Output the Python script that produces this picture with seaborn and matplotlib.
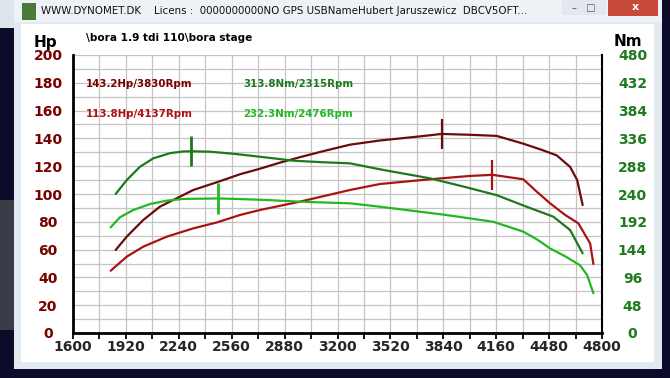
import numpy as np
import pandas as pd
import matplotlib
matplotlib.use("Agg")
import matplotlib.pyplot as plt
from matplotlib.patches import Rectangle
import seaborn as sns

# ---------------- data ----------------
rpm_hp_a = [1858, 1925, 2025, 2126, 2227, 2328, 2469, 2610, 2731, 2850, 2973, 3120, 3276,
            3457, 3679, 3830, 4002, 4163, 4324, 4430, 4526, 4607, 4650, 4683]
hp_a = [59.7, 69.3, 81.3, 90.9, 96.9, 102.9, 108.4, 114.2, 118.2, 122.5, 126.5, 131, 135.5,
        138.5, 141.2, 143.2, 142.6, 141.8, 136.2, 132, 127.8, 119.5, 110, 92]

rpm_hp_b = [1828, 1925, 2025, 2167, 2328, 2469, 2610, 2731, 2973, 3276, 3457, 3760, 4002,
            4137, 4324, 4405, 4486, 4576, 4657, 4728, 4748]
hp_b = [44.8, 54.9, 62.1, 69.3, 75.3, 79.5, 84.9, 88.5, 94.5, 102.9, 107.2, 110.6, 113,
        113.8, 110.6, 101.7, 93.3, 85, 78.9, 64.5, 49.6]

rpm_nm_a = [1858, 1925, 2005, 2086, 2187, 2267, 2315, 2429, 2570, 2772, 2933, 3100, 3276,
            3457, 3760, 3960, 4163, 4344, 4506, 4607, 4683]
nm_a = [240, 264, 287, 301.6, 310.5, 313.5, 313.8, 313, 309.5, 303, 297.5, 295, 292.9,
        282.6, 267, 253, 238, 218, 200.8, 177.8, 137.6]

rpm_nm_b = [1828, 1884, 1965, 2066, 2167, 2267, 2476, 2610, 2772, 2973, 3276, 3457, 3860,
            4143, 4324, 4410, 4486, 4580, 4667, 4710, 4748]
nm_b = [182.5, 199.8, 212.4, 222.7, 228.5, 231.5, 232.3, 231.3, 229.6, 226.7, 223.9, 218,
        203.7, 192, 175, 161, 146, 132, 117, 100, 68.6]

peak_labels_hp = ["143.2Hp/3830Rpm", "113.8Hp/4137Rpm"]
peak_labels_nm = ["313.8Nm/2315Rpm", "232.3Nm/2476Rpm"]
peaks_hp = [(3830, 143.2), (4137, 113.8)]
peaks_nm = [(2315, 313.8), (2476, 232.3)]

x_ticks = list(range(1600, 4801, 320))
hp_ticks = list(range(0, 201, 20))
nm_ticks = list(range(0, 481, 48))

title_text = "\\bora 1.9 tdi 110\\bora stage"
window_text = ("WWW.DYNOMET.DK    Licens :  0000000000NO GPS USBNameHubert Jaruszewicz  DBCV5OFT...")

# ---------------- style ----------------
sns.set_theme(style="white")
plt.rcParams['font.family'] = ['DejaVu Sans']

C_HP_A = "#6a0c0c"
C_HP_B = "#a81414"
C_NM_A = "#1c7a1c"
C_NM_B = "#22b822"
C_HP_TXT = "#7a0000"
C_NM_TXT = "#1e7a1e"

W, H = 670, 378
fig = plt.figure(figsize=(W / 100, H / 100), dpi=100)
fig.patch.set_facecolor("white")


def rect(x0, y0, x1, y1, color, z=0):
    fig.add_artist(Rectangle((x0 / W, 1 - y1 / H), (x1 - x0) / W, (y1 - y0) / H,
                             transform=fig.transFigure, facecolor=color,
                             edgecolor="none", zorder=z))


# window chrome
rect(0, 0, W, H, "#0b0b2a", -10)            # desktop
rect(0, 0, 14, 28, "#dfe5ec", -9)
rect(0, 200, 14, 330, "#3a3c48", -9)
rect(14, 0, 662, 369, "#e3e9f0", -8)        # frame
rect(14, 0, 662, 22, "#eef2f7", -8)         # title bar
rect(21, 24, 654, 362, "#ffffff", -7)       # client
rect(562, 0, 606, 15, "#e4e8ee", -6)
rect(608, 0, 658, 16, "#c8483a", -6)
fig.text(635 / W, 1 - 7 / H, "x", color="white", fontsize=8, fontweight="bold",
         ha="center", va="center")
fig.text(584 / W, 1 - 8 / H, "\u2013   \u25a1", color="#555555", fontsize=7,
         ha="center", va="center")
rect(22, 3, 36, 20, "#4a7a3a", -5)
fig.text(41 / W, 1 - 11 / H, window_text, fontsize=7.4, color="#111111",
         ha="left", va="center")

# ---------------- axes ----------------
ax = fig.add_axes([73 / W, (H - 333) / H, (602 - 73) / W, (333 - 55) / H])
ax.set_facecolor("none")

df_a = pd.DataFrame({"rpm": rpm_hp_a, "val": hp_a, "run": "a"})
df_b = pd.DataFrame({"rpm": rpm_hp_b, "val": hp_b, "run": "b"})
df_hp = pd.concat([df_a, df_b], ignore_index=True)
sns.lineplot(data=df_hp, x="rpm", y="val", hue="run", palette=[C_HP_A, C_HP_B],
             estimator=None, sort=False, legend=False, lw=1.6, ax=ax)

ax.set_xlim(1600, 4800)
ax.set_ylim(0, 200)
ax.set_xticks(x_ticks)
ax.set_xticks(list(range(1600, 4801, 160)), minor=True)
ax.set_yticks(hp_ticks)
ax.set_yticks(list(range(0, 201, 10)), minor=True)
ax.grid(which="both", color="#c4c4c4", lw=0.9)
ax.set_axisbelow(True)
ax.set_xlabel("")
ax.set_ylabel("")
ax.spines["top"].set_visible(False)
ax.spines["left"].set_color("black")
ax.spines["left"].set_linewidth(2)
ax.spines["bottom"].set_color("black")
ax.spines["bottom"].set_linewidth(2)
ax.spines["right"].set_color("black")
ax.spines["right"].set_linewidth(1.5)

ax.tick_params(axis="x", which="both", bottom=True, direction="out", length=4,
               width=1.3, color="black", labelsize=10, pad=1)
ax.tick_params(axis="y", which="both", left=False, length=0, labelsize=10,
               labelcolor=C_HP_TXT, pad=18)
for lab in ax.get_xticklabels():
    lab.set_fontweight("bold")
for lab in ax.get_yticklabels():
    lab.set_fontweight("bold")
    lab.set_horizontalalignment("center")

for (r, v), c in zip(peaks_hp, [C_HP_A, C_HP_B]):
    ax.vlines(r, v - 11, v + 11, color=c, lw=1.6, zorder=5)

ax2 = ax.twinx()
df_c = pd.DataFrame({"rpm": rpm_nm_a, "val": nm_a, "run": "a"})
df_d = pd.DataFrame({"rpm": rpm_nm_b, "val": nm_b, "run": "b"})
df_nm = pd.concat([df_c, df_d], ignore_index=True)
sns.lineplot(data=df_nm, x="rpm", y="val", hue="run", palette=[C_NM_A, C_NM_B],
             estimator=None, sort=False, legend=False, lw=1.6, ax=ax2)
ax2.set_ylim(0, 480)
ax2.set_yticks(nm_ticks)
ax2.set_ylabel("")
ax2.grid(False)
for s in ax2.spines.values():
    s.set_visible(False)
ax2.tick_params(axis="y", right=False, length=0, labelsize=10, labelcolor=C_NM_TXT, pad=22)
for lab in ax2.get_yticklabels():
    lab.set_fontweight("bold")
    lab.set_horizontalalignment("center")
for (r, v), c in zip(peaks_nm, [C_NM_A, C_NM_B]):
    ax2.vlines(r, v - 26, v + 26, color=c, lw=2, zorder=5)

# annotations
ax.text(1675, 179, peak_labels_hp[0], color=C_HP_TXT, fontsize=7.4, fontweight="bold",
        va="center", ha="left")
ax.text(1675, 157.5, peak_labels_hp[1], color="#b01010", fontsize=7.4, fontweight="bold",
        va="center", ha="left")
ax.text(2628, 179, peak_labels_nm[0], color=C_NM_A, fontsize=7.4, fontweight="bold",
        va="center", ha="left")
ax.text(2628, 157.5, peak_labels_nm[1], color=C_NM_B, fontsize=7.4, fontweight="bold",
        va="center", ha="left")

fig.text(86 / W, 1 - 38 / H, title_text, fontsize=7.6, fontweight="bold",
         color="black", ha="left", va="center")
fig.text(45 / W, 1 - 42 / H, "Hp", fontsize=11, fontweight="bold", color="black",
         ha="center", va="center")
fig.text(628 / W, 1 - 42 / H, "Nm", fontsize=11, fontweight="bold", color="black",
         ha="center", va="center")

fig.savefig("out.png", dpi=100)
